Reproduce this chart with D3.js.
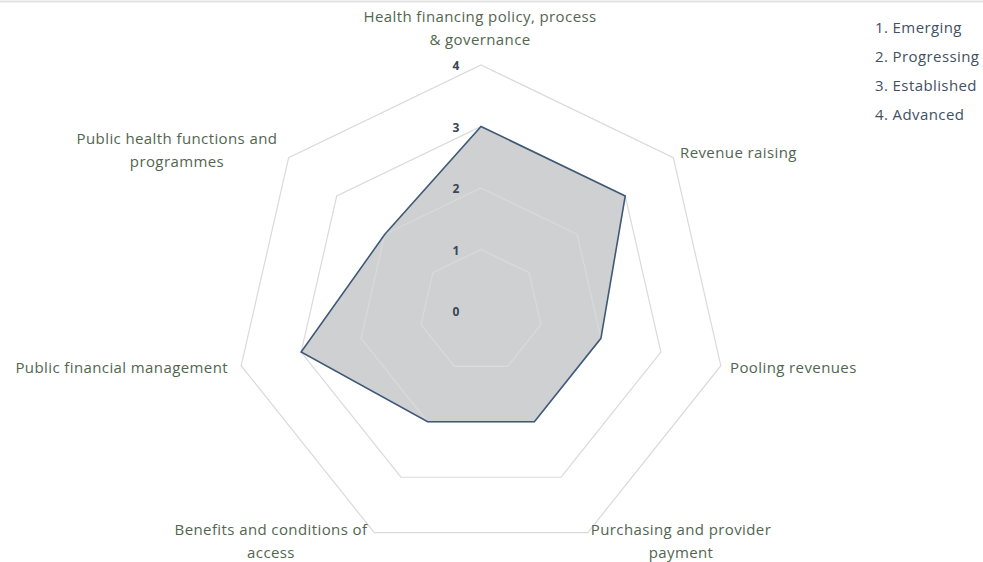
<!DOCTYPE html>
<html><head><meta charset="utf-8">
<script src="https://cdn.jsdelivr.net/npm/d3@7"></script>
<style>
html,body{margin:0;padding:0;background:#fff;}
svg{display:block;}
text{font-family:"Open Sans","Noto Sans",sans-serif;}
</style></head>
<body><svg id="chart" width="983" height="562"></svg>
<script>
const axes = [
  ["Health financing policy, process", "& governance"],
  ["Revenue raising"],
  ["Pooling revenues"],
  ["Purchasing and provider", "payment"],
  ["Benefits and conditions of", "access"],
  ["Public financial management"],
  ["Public health functions and", "programmes"]
];
const values = [3, 3, 2, 2, 2, 3, 2];
const gridLevels = [1, 2, 3, 4];
const tickLabels = ["0", "1", "2", "3", "4"];
const legendItems = ["1. Emerging", "2. Progressing", "3. Established", "4. Advanced"];

const svg = d3.select("#chart");
const cx = 481, cy = 311;
const r = d3.scaleLinear().domain([0, 4]).range([0, 246]);
const n = axes.length;
const ang = d3.scaleLinear().domain([0, n]).range([0, 2 * Math.PI]);
const pt = (i, v) => [cx + r(v) * Math.sin(ang(i)), cy - r(v) * Math.cos(ang(i))];
const line = d3.line().curve(d3.curveLinearClosed);

// top border line
svg.append("line").attr("x1", 0).attr("x2", 983).attr("y1", 1.5).attr("y2", 1.5)
  .attr("stroke", "#e2e2e2").attr("stroke-width", 2);

// data polygon
svg.append("path")
  .attr("d", line(values.map((v, i) => pt(i, v))))
  .attr("fill", "#cfd0d2").attr("stroke", "none");

// grid
svg.selectAll("path.grid").data(gridLevels).join("path")
  .attr("class", "grid")
  .attr("d", lv => line(d3.range(n).map(i => pt(i, lv))))
  .attr("fill", "none").attr("stroke", "#dadada").attr("stroke-width", 1.2);

// data outline
svg.append("path")
  .attr("d", line(values.map((v, i) => pt(i, v))))
  .attr("fill", "none").attr("stroke", "#3e5a78").attr("stroke-width", 1.6)
  .attr("stroke-linejoin", "miter");

// tick labels
svg.selectAll("text.tick").data(tickLabels).join("text")
  .attr("class", "tick")
  .attr("x", cx - 25)
  .attr("y", (d, i) => cy - r(i) + 2)
  .attr("text-anchor", "middle").attr("dominant-baseline", "middle")
  .attr("font-size", 12).attr("font-weight", "bold").attr("fill", "#3b4656")
  .text(d => d);

// axis labels
const labelPos = [
  {x: 480, y: 18, anchor: "middle"},
  {x: 680, y: 154, anchor: "start"},
  {x: 730, y: 369, anchor: "start"},
  {x: 681, y: 531, anchor: "middle"},
  {x: 271, y: 531, anchor: "middle"},
  {x: 228, y: 369, anchor: "end"},
  {x: 177, y: 140, anchor: "middle"}
];
axes.forEach((lines, i) => {
  const p = labelPos[i];
  const t = svg.append("text")
    .attr("x", p.x).attr("y", p.y)
    .attr("text-anchor", p.anchor).attr("dominant-baseline", "middle")
    .attr("font-size", 15).attr("letter-spacing", 0.4).attr("fill", "#52664f");
  lines.forEach((s, k) => {
    t.append("tspan").attr("x", p.x).attr("dy", k === 0 ? 0 : 23).text(s);
  });
});

// legend
svg.selectAll("text.legend").data(legendItems).join("text")
  .attr("class", "legend")
  .attr("x", 875).attr("y", (d, i) => 29 + i * 29)
  .attr("dominant-baseline", "middle")
  .attr("font-size", 15).attr("letter-spacing", 0.4).attr("fill", "#3f5163")
  .text(d => d);
</script></body></html>
